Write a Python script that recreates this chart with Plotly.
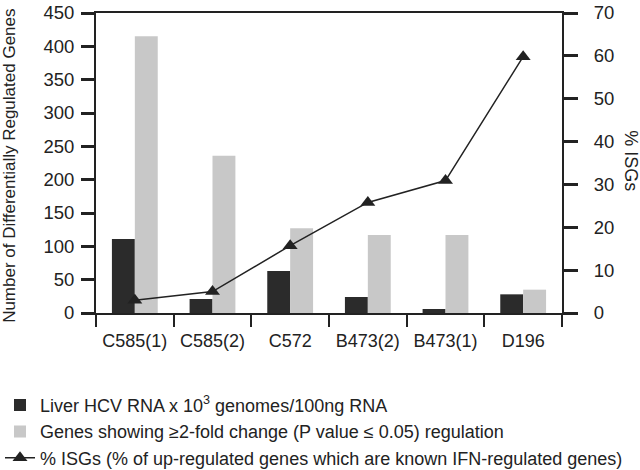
import plotly.graph_objects as go

categories = ["C585(1)", "C585(2)", "C572", "B473(2)", "B473(1)", "D196"]
hcv_rna = [111, 21, 63, 24, 6, 28]
genes_changed = [415, 236, 127, 117, 117, 35]
pct_isgs = [3.0, 5.0, 15.7, 25.8, 30.9, 59.8]

left_ticks = list(range(0, 451, 50))
right_ticks = list(range(0, 71, 10))

FONT = "Liberation Sans, Arial, sans-serif"
INK = "#222222"

fig = go.Figure()
fig.add_bar(x=categories, y=hcv_rna,
            name="Liver HCV RNA x 10<sup>3</sup> genomes/100ng RNA",
            marker=dict(color="#2b2b2b", line=dict(width=0)), legendgroup="a")
fig.add_bar(x=categories, y=genes_changed,
            name="Genes showing ≥2-fold change (P value ≤ 0.05) regulation",
            marker=dict(color="#c8c8c8", line=dict(width=0)), legendgroup="b")
fig.add_scatter(x=categories, y=pct_isgs, yaxis="y2", mode="lines+markers",
                name="% ISGs (% of up-regulated genes which are known IFN-regulated genes)",
                line=dict(color=INK, width=1.5),
                marker=dict(symbol="triangle-up", size=13, color=INK),
                legendgroup="c")

fig.update_layout(
    width=640, height=470,
    margin=dict(l=96, r=78, t=13, b=157, autoexpand=False),
    paper_bgcolor="white", plot_bgcolor="white",
    font=dict(family=FONT, color=INK, size=18),
    barmode="group", bargap=0.41, bargroupgap=0,
    showlegend=True,
    legend=dict(orientation="v", xref="container", yref="container",
                x=0, xanchor="left", y=0.177, yanchor="top",
                font=dict(size=18, color=INK), traceorder="normal",
                tracegroupgap=6, bgcolor="rgba(0,0,0,0)"),
    xaxis=dict(showline=True, linecolor=INK, linewidth=1.5, mirror=True,
               ticks="outside", tickson="boundaries", ticklen=12, tickwidth=2,
               tickcolor=INK, showgrid=False, tickfont=dict(size=18),
               ticklabelstandoff=11, automargin=False),
    yaxis=dict(range=[0, 450], tickvals=left_ticks, showline=True, linecolor=INK,
               linewidth=2, ticks="outside", ticklen=13, tickwidth=2.5, tickcolor=INK,
               showgrid=False, zeroline=False, automargin=False,
               ticklabelstandoff=3, tickfont=dict(size=18.5)),
    yaxis2=dict(range=[0, 70], tickvals=right_ticks, overlaying="y", side="right",
                showline=True, linecolor=INK, linewidth=2, ticks="outside",
                ticklen=14, tickwidth=2.5, tickcolor=INK, showgrid=False,
                zeroline=False, automargin=False, ticklabelstandoff=12,
                tickfont=dict(size=18.5)),
    annotations=[
        dict(text="Number of Differentially Regulated Genes", xref="paper", yref="paper",
             x=-0.187, y=0.49, textangle=-90, showarrow=False,
             font=dict(size=17, color=INK), xanchor="center", yanchor="middle"),
        dict(text="% ISGs", xref="paper", yref="paper", x=1.148, y=0.506,
             textangle=90, showarrow=False, font=dict(size=18, color=INK),
             xanchor="center", yanchor="middle"),
    ],
)

fig.write_html("out.html", config={"displayModeBar": False},
               post_script="document.body.style.margin='0';document.body.style.overflow='hidden';")
